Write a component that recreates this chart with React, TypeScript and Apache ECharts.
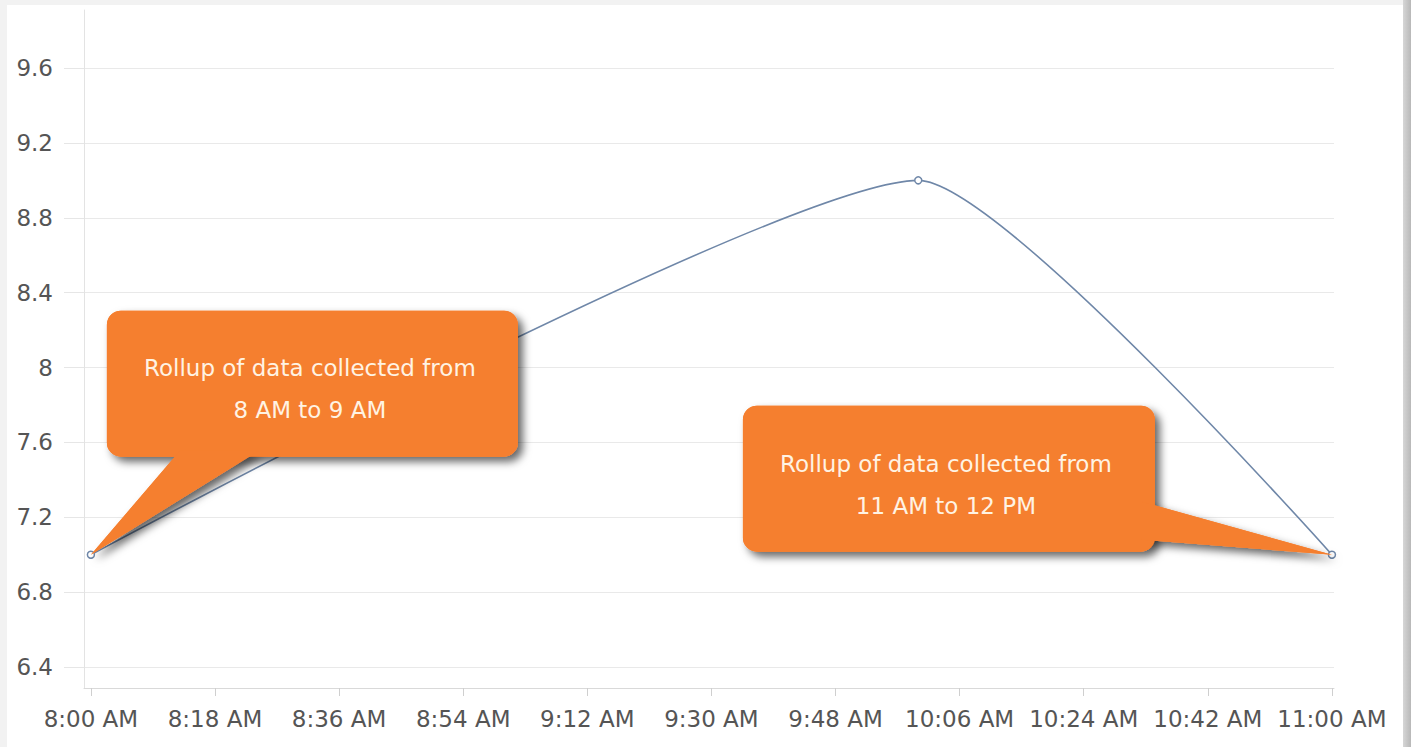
import React, { useEffect, useRef } from "react";
import * as echarts from "echarts";

// ---- data ----
const timeLabels = ["8:00 AM", "10:00 AM", "11:00 AM"];
const values = [7, 9, 7];
const xTickMinutes = [0, 18, 36, 54, 72, 90, 108, 126, 144, 162, 180];
const yTicks = [6.4, 6.8, 7.2, 7.6, 8, 8.4, 8.8, 9.2, 9.6];
const calloutTexts = [
  "Rollup of data collected from\n8 AM to 9 AM",
  "Rollup of data collected from\n11 AM to 12 PM",
];
const calloutPointIndex = [0, 2];

const START_MIN = 8 * 60;

function parseTime(s: string): number {
  const [hm, ap] = s.split(" ");
  let [h, m] = hm.split(":").map(Number);
  if (ap === "PM" && h !== 12) h += 12;
  if (ap === "AM" && h === 12) h = 0;
  return h * 60 + m - START_MIN;
}

function fmt(v: number): string {
  const total = START_MIN + Math.round(v);
  const h = Math.floor(total / 60);
  const m = total % 60;
  const ap = h >= 12 ? "PM" : "AM";
  const h12 = h % 12 === 0 ? 12 : h % 12;
  return `${h12}:${m < 10 ? "0" + m : m} ${ap}`;
}

const LINE_COLOR = "#6f87a8";
const ORANGE = "#f57f2f";
const TEXT_FONT = "DejaVu Sans";

// callout geometry relative to the data point (tip)
const calloutShapes = [
  { rect: [16, -244, 411, 146], base: [[89, -104], [168, -104]], text: [219, -166] },
  { rect: [-589, -149, 412, 146], base: [[-190, -53], [-190, -15]], text: [-386, -70] },
];

export default function App() {
  const ref = useRef<HTMLDivElement>(null);

  useEffect(() => {
    if (!ref.current) return;
    const chart = echarts.init(ref.current, undefined, { renderer: "svg" });
    const data = timeLabels.map((t, i) => [parseTime(t), values[i]]);

    chart.setOption({
      animation: false,
      grid: { left: 84, top: 10, right: 77, bottom: 59, containLabel: false },
      xAxis: {
        type: "value",
        min: -1,
        max: 180.3,
        axisLine: { show: true, onZero: false, lineStyle: { color: "#d9d9d9", width: 1 } },
        axisTick: {
          show: true,
          customValues: xTickMinutes,
          length: 8,
          lineStyle: { color: "#cfcfcf" },
        },
        axisLabel: {
          customValues: xTickMinutes,
          formatter: (v: number) => fmt(v),
          color: "#555",
          fontFamily: TEXT_FONT,
          fontSize: 23,
          margin: 19,
        },
        splitLine: { show: false },
      },
      yAxis: {
        type: "value",
        min: 6.288,
        max: 9.91,
        axisLine: { show: true, onZero: false, lineStyle: { color: "#e3e3e3", width: 1 } },
        axisTick: {
          show: true,
          customValues: yTicks,
          length: 20,
          lineStyle: { color: "#e6e6e6" },
        },
        axisLabel: {
          customValues: yTicks,
          formatter: (v: number) => String(Math.round(v * 10) / 10),
          color: "#555",
          fontFamily: TEXT_FONT,
          fontSize: 23,
          margin: 31,
        },
        splitLine: { show: true, lineStyle: { color: "#e9e9e9", width: 1 } },
      },
      series: [
        {
          type: "line",
          data,
          smooth: 0.17,
          symbol: "circle",
          symbolSize: 7,
          showAllSymbol: true,
          itemStyle: { color: "#ffffff", borderColor: LINE_COLOR, borderWidth: 1.5 },
          lineStyle: { color: LINE_COLOR, width: 1.6 },
          z: 2,
        },
      ],
    });

    const graphics: any[] = [];
    calloutPointIndex.forEach((idx, k) => {
      const tip = chart.convertToPixel({ xAxisIndex: 0, yAxisIndex: 0 }, data[idx]) as number[];
      const s = calloutShapes[k];
      const [rx, ry, rw, rh] = s.rect;
      const rectShape = { x: tip[0] + rx, y: tip[1] + ry, width: rw, height: rh, r: 14 };
      const tailPts = [
        [tip[0] + s.base[0][0], tip[1] + s.base[0][1]],
        [tip[0] + s.base[1][0], tip[1] + s.base[1][1]],
        [tip[0], tip[1]],
      ];
      const shadow = {
        shadowBlur: 8,
        shadowOffsetX: 5,
        shadowOffsetY: 5,
        shadowColor: "rgba(0,0,0,0.6)",
      };
      graphics.push(
        { type: "rect", shape: rectShape, style: { fill: ORANGE, ...shadow }, z: 10 },
        { type: "polygon", shape: { points: tailPts }, style: { fill: ORANGE, ...shadow }, z: 10 },
        { type: "rect", shape: rectShape, style: { fill: ORANGE }, z: 11 },
        { type: "polygon", shape: { points: tailPts }, style: { fill: ORANGE }, z: 11 },
        {
          type: "text",
          x: tip[0] + s.text[0],
          y: tip[1] + s.text[1],
          z: 12,
          style: {
            text: calloutTexts[k],
            fill: "#fff3e3",
            fontSize: 23,
            fontFamily: TEXT_FONT,
            align: "center",
            verticalAlign: "middle",
            lineHeight: 42,
          },
        }
      );
    });
    chart.setOption({ graphic: graphics });

    return () => chart.dispose();
  }, []);

  return (
    <div
      style={{
        position: "fixed",
        left: 0,
        top: 0,
        width: 1411,
        height: 747,
        background: "#f2f2f2",
        overflow: "hidden",
      }}
    >
      <div
        style={{
          position: "absolute",
          left: 7,
          top: 5,
          width: 1396,
          height: 742,
          background: "#ffffff",
        }}
      />
      <div
        style={{
          position: "absolute",
          left: 1403,
          top: 0,
          width: 8,
          height: 747,
          background: "linear-gradient(to right, #d6d6d6, #b8b8b8)",
        }}
      />
      <div ref={ref} style={{ position: "absolute", left: 0, top: 0, width: 1411, height: 747 }} />
    </div>
  );
}
